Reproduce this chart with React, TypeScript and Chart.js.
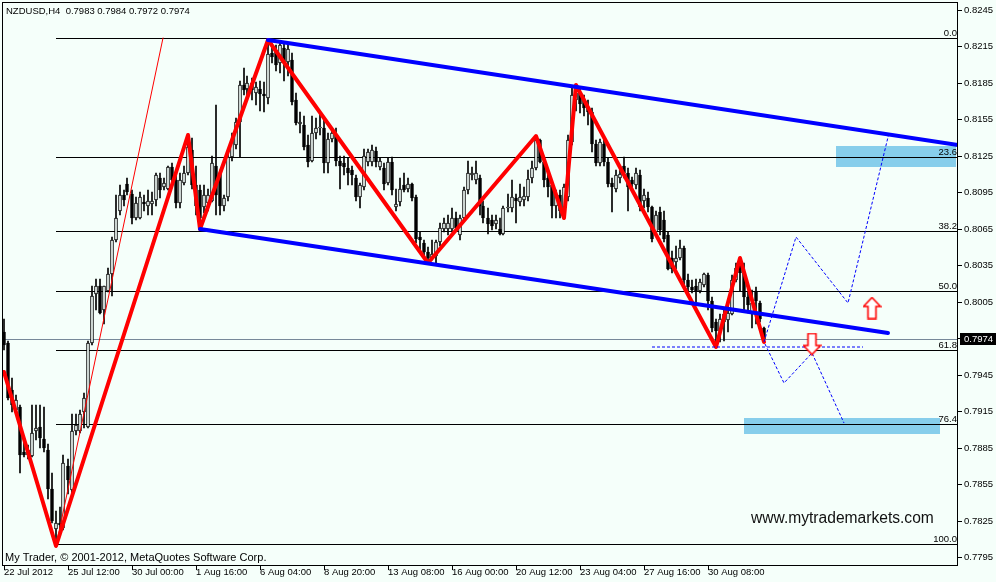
import React, { useEffect, useRef } from "react";
import { Chart, registerables } from "chart.js";

Chart.register(...registerables);

// ---------------- data ----------------
const SYMBOL = "NZDUSD,H4";
const COPYRIGHT = "My Trader, © 2001-2012, MetaQuotes Software Corp.";
const WATERMARK = "www.mytrademarkets.com";

// H4 candles, prices in pips (0.0001)
const OPEN = [
  7980, 7971, 7932, 7916, 7918, 7881, 7879, 7878, 7899, 7902,
  7892, 7883, 7851, 7818, 7823, 7819, 7870, 7850, 7899, 7899,
  7914, 7902, 7971, 8011, 8018, 7998, 8014, 8028, 8056, 8080,
  8093, 8102, 8094, 8074, 8074, 8087, 8084, 8085, 8089, 8107,
  8099, 8098, 8116, 8105, 8086, 8103, 8111, 8130, 8101, 8097,
  8083, 8086, 8088, 8117, 8111, 8084, 8091, 8124, 8134, 8153,
  8183, 8180, 8185, 8177, 8180, 8176, 8173, 8210, 8212, 8201,
  8214, 8202, 8204, 8171, 8151, 8150, 8134, 8121, 8144, 8148,
  8148, 8119, 8139, 8142, 8121, 8119, 8115, 8113, 8107, 8091,
  8099, 8120, 8120, 8129, 8116, 8115, 8103, 8120, 8083, 8087,
  8101, 8098, 8102, 8091, 8058, 8053, 8046, 8041, 8043, 8054,
  8065, 8065, 8065, 8074, 8060, 8074, 8097, 8109, 8105, 8107,
  8084, 8074, 8072, 8069, 8065, 8061, 8082, 8082, 8090, 8087,
  8089, 8091, 8107, 8115, 8138, 8120, 8107, 8101, 8084, 8093,
  8079, 8091, 8136, 8171, 8177, 8171, 8164, 8161, 8135, 8119,
  8135, 8120, 8103, 8098, 8107, 8117, 8111, 8105, 8101, 8109,
  8088, 8090, 8083, 8062, 8079, 8072, 8060, 8041, 8038, 8041,
  8049, 8023, 8017, 8018, 8014, 8019, 8027, 8006, 7988, 7981,
  7988, 7990, 7995, 8023, 8037, 8029, 8009, 7995, 8014, 8004,
  7983,
];
const HIGH = [
  7991, 7973, 7942, 7928, 7920, 7891, 7887, 7920, 7920, 7920,
  7918, 7888, 7864, 7833, 7836, 7879, 7876, 7913, 7913, 7916,
  7930, 7973, 8018, 8024, 8024, 8018, 8033, 8058, 8093, 8101,
  8097, 8107, 8097, 8091, 8095, 8093, 8097, 8095, 8111, 8111,
  8107, 8117, 8119, 8109, 8111, 8117, 8142, 8140, 8117, 8101,
  8101, 8098, 8125, 8167, 8113, 8093, 8130, 8144, 8156, 8187,
  8197, 8191, 8189, 8186, 8187, 8186, 8220, 8218, 8216, 8218,
  8218, 8218, 8210, 8177, 8161, 8158, 8142, 8158, 8156, 8162,
  8156, 8144, 8148, 8148, 8125, 8125, 8123, 8117, 8109, 8103,
  8131, 8131, 8134, 8132, 8123, 8119, 8123, 8124, 8098, 8107,
  8111, 8107, 8103, 8093, 8062, 8056, 8050, 8056, 8056, 8070,
  8074, 8076, 8082, 8079, 8076, 8099, 8121, 8116, 8121, 8109,
  8088, 8082, 8076, 8076, 8074, 8084, 8094, 8105, 8094, 8102,
  8099, 8113, 8121, 8141, 8139, 8125, 8111, 8103, 8097, 8097,
  8102, 8142, 8181, 8183, 8181, 8175, 8171, 8164, 8138, 8139,
  8138, 8123, 8107, 8113, 8115, 8124, 8115, 8108, 8115, 8113,
  8098, 8095, 8084, 8080, 8083, 8080, 8062, 8047, 8051, 8056,
  8051, 8028, 8023, 8024, 8024, 8029, 8029, 8009, 7991, 7995,
  7998, 8002, 8027, 8037, 8041, 8037, 8014, 8015, 8017, 8006,
  7984,
];
const LOW = [
  7965, 7924, 7914, 7914, 7864, 7877, 7876, 7877, 7891, 7885,
  7881, 7843, 7823, 7804, 7814, 7817, 7847, 7847, 7895, 7897,
  7901, 7901, 7969, 7998, 7995, 7987, 8013, 8010, 8054, 8076,
  8084, 8093, 8069, 8072, 8073, 8080, 8076, 8076, 8084, 8090,
  8097, 8097, 8101, 8082, 8082, 8101, 8109, 8098, 8076, 8065,
  8078, 8080, 8087, 8076, 8076, 8080, 8088, 8121, 8131, 8124,
  8175, 8175, 8171, 8167, 8162, 8161, 8168, 8201, 8195, 8193,
  8187, 8191, 8167, 8150, 8144, 8130, 8116, 8120, 8139, 8142,
  8111, 8111, 8136, 8117, 8098, 8109, 8101, 8101, 8088, 8082,
  8097, 8117, 8117, 8116, 8113, 8097, 8101, 8093, 8080, 8084,
  8095, 8095, 8088, 8053, 8045, 8043, 8037, 8039, 8037, 8051,
  8062, 8060, 8062, 8064, 8056, 8072, 8094, 8105, 8102, 8076,
  8070, 8061, 8064, 8065, 8060, 8060, 8079, 8079, 8070, 8084,
  8084, 8088, 8103, 8113, 8119, 8099, 8091, 8074, 8074, 8074,
  8074, 8088, 8134, 8162, 8160, 8158, 8150, 8128, 8117, 8117,
  8117, 8099, 8079, 8095, 8103, 8107, 8080, 8097, 8098, 8080,
  8082, 8079, 8054, 8059, 8060, 8054, 8031, 8029, 8032, 8039,
  8017, 8013, 8012, 8004, 8012, 8017, 7998, 7980, 7968, 7972,
  7973, 7980, 7994, 8021, 8014, 7998, 7996, 7983, 7987, 7988,
  7972,
];
const CLOSE = [
  7969, 7926, 7920, 7924, 7879, 7879, 7883, 7897, 7901, 7893,
  7885, 7851, 7825, 7823, 7821, 7872, 7858, 7899, 7904, 7913,
  7926, 7971, 8010, 8018, 7996, 8018, 8028, 8056, 8074, 8093,
  8089, 8095, 8074, 8086, 8091, 8085, 8088, 8088, 8109, 8097,
  8103, 8116, 8105, 8086, 8105, 8111, 8132, 8101, 8084, 8074,
  8093, 8093, 8119, 8093, 8084, 8090, 8124, 8138, 8153, 8183,
  8179, 8185, 8179, 8182, 8176, 8174, 8209, 8206, 8200, 8216,
  8201, 8213, 8169, 8152, 8153, 8132, 8120, 8144, 8148, 8149,
  8119, 8139, 8144, 8121, 8117, 8116, 8111, 8109, 8091, 8101,
  8125, 8128, 8130, 8120, 8121, 8102, 8120, 8097, 8085, 8098,
  8097, 8102, 8090, 8057, 8056, 8046, 8041, 8044, 8054, 8066,
  8070, 8070, 8074, 8066, 8074, 8097, 8111, 8111, 8111, 8084,
  8074, 8069, 8067, 8072, 8061, 8082, 8083, 8091, 8088, 8091,
  8092, 8106, 8115, 8138, 8120, 8105, 8099, 8084, 8093, 8080,
  8099, 8138, 8175, 8177, 8168, 8164, 8161, 8135, 8119, 8136,
  8120, 8102, 8099, 8109, 8110, 8111, 8099, 8102, 8111, 8083,
  8093, 8083, 8057, 8076, 8064, 8057, 8032, 8032, 8041, 8049,
  8023, 8017, 8015, 8014, 8021, 8028, 8006, 7983, 7981, 7991,
  7995, 7996, 8023, 8033, 8029, 8009, 8002, 8004, 8006, 7991,
  7974,
];

const DATE_BARS = [0, 16, 32, 48, 64, 80, 96, 112, 128, 144, 160, 176];
const DATE_LABELS = [
  "22 Jul 2012", "25 Jul 12:00", "30 Jul 00:00", "1 Aug 16:00", "6 Aug 04:00", "8 Aug 20:00",
  "13 Aug 08:00", "16 Aug 00:00", "20 Aug 12:00", "23 Aug 04:00", "27 Aug 16:00", "30 Aug 08:00",
];
const PRICE_TICKS = [
  0.7795, 0.7825, 0.7855, 0.7885, 0.7915, 0.7945, 0.7975, 0.8005,
  0.8035, 0.8065, 0.8095, 0.8125, 0.8155, 0.8185, 0.8215, 0.8245,
];

// ZigZag (bar index, price)
const ZIGZAG_BARS = [0, 13, 46, 49, 66, 106, 133, 140, 143, 178, 184, 190];
const ZIGZAG_PRICES = [0.7947, 0.7804, 0.8142, 0.8065, 0.822, 0.8037, 0.8141, 0.8074, 0.8183, 0.7968, 0.8041, 0.7972];

// thin trend line
const TREND_BARS = [13, 39.9];
const TREND_PRICES = [0.7804, 0.8222];

// descending channel
const CHANNEL_UP_BARS = [66, 238.6];
const CHANNEL_UP_PRICES = [0.822, 0.8134];
const CHANNEL_LOW_BARS = [49, 221];
const CHANNEL_LOW_PRICES = [0.8065, 0.7979];

// projected scenarios (dashed)
const PROJ_A_BARS = [190, 198, 211, 221.4];
const PROJ_A_PRICES = [0.7972, 0.8058, 0.8004, 0.8144];
const PROJ_B_BARS = [190.3, 195, 202, 210];
const PROJ_B_PRICES = [0.797, 0.7938, 0.7963, 0.7905];
const SUPPORT_BARS = [162, 214.8];
const SUPPORT_PRICE = 0.7968;

// target zones
const ZONE_FROM = [208, 185];
const ZONE_TO = [238, 234];
const ZONE_TOP = [0.8133, 0.7909];
const ZONE_BOTTOM = [0.8116, 0.7896];

// arrows
const ARROW_UP_BAR = 217;
const ARROW_UP_PRICE = 0.8;
const ARROW_DOWN_BAR = 202;
const ARROW_DOWN_PRICE = 0.797;

// Fibonacci
const FIB_HIGH = 0.82215;
const FIB_LOW = 0.7805;
const FIB_START_BAR = 13;
const FIB_LEVELS = [0, 23.6, 38.2, 50, 61.8, 76.4, 100];

// view
const X_MIN = -0.375;
const X_MAX = 238.625;
const Y_MIN = 0.778842;
const Y_MAX = 0.825158;

// ---------------- styles ----------------
const BG = "#F5FFFA";
const FONT = "'Liberation Sans', Arial, Helvetica, sans-serif";

const p = (v: number) => v / 10000;

function makeArrow(up: boolean): HTMLCanvasElement {
  const c = document.createElement("canvas");
  c.width = 19;
  c.height = 23;
  const g = c.getContext("2d")!;
  const pts = [
    [9.5, 1], [18, 10], [13.5, 10], [13.5, 22], [5.5, 22], [5.5, 10], [1, 10],
  ];
  g.beginPath();
  pts.forEach(([px, py], k) => {
    const yy = up ? py : 23 - py;
    if (k === 0) g.moveTo(px, yy);
    else g.lineTo(px, yy);
  });
  g.closePath();
  g.fillStyle = "#ffffff";
  g.fill();
  g.strokeStyle = "#ff0000";
  g.lineWidth = 1.6;
  g.stroke();
  return c;
}

const mtPlugin = {
  id: "mtDecor",
  beforeDraw(chart: any) {
    const { ctx, width, height } = chart;
    ctx.save();
    ctx.fillStyle = BG;
    ctx.fillRect(0, 0, width, height);
    ctx.restore();
  },
  beforeDatasetsDraw(chart: any) {
    const { ctx, chartArea } = chart;
    const xs = chart.scales.x;
    const ys = chart.scales.y;
    ctx.save();
    ctx.beginPath();
    ctx.rect(chartArea.left, chartArea.top, chartArea.right - chartArea.left, chartArea.bottom - chartArea.top);
    ctx.clip();
    // zones
    ctx.fillStyle = "#87CEEB";
    ZONE_FROM.forEach((from, k) => {
      const x1 = Math.round(xs.getPixelForValue(from));
      const x2 = Math.round(xs.getPixelForValue(ZONE_TO[k]));
      const y1 = Math.round(ys.getPixelForValue(ZONE_TOP[k]));
      const y2 = Math.round(ys.getPixelForValue(ZONE_BOTTOM[k]));
      ctx.fillRect(x1, y1, x2 - x1, y2 - y1);
    });
    // current price line
    const last = CLOSE[CLOSE.length - 1];
    const yp = Math.round(ys.getPixelForValue(p(last))) + 0.5;
    ctx.strokeStyle = "#778899";
    ctx.lineWidth = 1;
    ctx.beginPath();
    ctx.moveTo(chartArea.left, yp);
    ctx.lineTo(chartArea.right, yp);
    ctx.stroke();
    // fib levels
    const xStart = xs.getPixelForValue(FIB_START_BAR);
    ctx.strokeStyle = "#000000";
    FIB_LEVELS.forEach((lv) => {
      const v = FIB_HIGH - (FIB_HIGH - FIB_LOW) * (lv / 100);
      const yy = Math.round(ys.getPixelForValue(v)) - 0.5;
      ctx.beginPath();
      ctx.moveTo(Math.round(xStart), yy);
      ctx.lineTo(chartArea.right, yy);
      ctx.stroke();
    });
    ctx.restore();
  },
  afterDatasetsDraw(chart: any) {
    const { ctx, chartArea } = chart;
    const ys = chart.scales.y;
    ctx.save();
    ctx.fillStyle = "#000000";
    ctx.font = `9.5px ${FONT}`;
    ctx.textAlign = "right";
    ctx.textBaseline = "alphabetic";
    FIB_LEVELS.forEach((lv) => {
      const v = FIB_HIGH - (FIB_HIGH - FIB_LOW) * (lv / 100);
      const yy = Math.round(ys.getPixelForValue(v)) - 0.5;
      ctx.fillText(lv.toFixed(1), chartArea.right - 1, yy - 2.5);
    });
    ctx.restore();
  },
  afterDraw(chart: any) {
    const { ctx, chartArea } = chart;
    const ys = chart.scales.y;
    ctx.save();
    // frame
    ctx.strokeStyle = "#000000";
    ctx.lineWidth = 1;
    ctx.strokeRect(
      chartArea.left + 0.5,
      chartArea.top + 0.5,
      chartArea.right - chartArea.left - 1,
      Math.round(chartArea.bottom) - chartArea.top
    );
    // title
    const n = CLOSE.length - 1;
    ctx.fillStyle = "#000000";
    ctx.font = `9.5px ${FONT}`;
    ctx.textAlign = "left";
    ctx.textBaseline = "alphabetic";
    const title = `${SYMBOL}  ${p(OPEN[n]).toFixed(4)} ${p(HIGH[n]).toFixed(4)} ${p(LOW[n]).toFixed(4)} ${p(CLOSE[n]).toFixed(4)}`;
    ctx.fillText(title, 6, 14);
    ctx.font = `11px ${FONT}`;
    ctx.fillText(COPYRIGHT, 5, 561);
    // watermark
    ctx.font = `15.6px ${FONT}`;
    ctx.fillStyle = "#111111";
    ctx.fillText(WATERMARK, 751, 523);
    // price box
    const yy = Math.round(ys.getPixelForValue(p(CLOSE[n])));
    ctx.fillStyle = "#000000";
    ctx.fillRect(chartArea.right + 2, yy - 6, 38, 12);
    ctx.fillStyle = "#ffffff";
    ctx.font = `9.5px ${FONT}`;
    ctx.textBaseline = "middle";
    ctx.fillText(p(CLOSE[n]).toFixed(4), chartArea.right + 6, yy + 0.5);
    ctx.restore();
  },
};

export default function App() {
  const ref = useRef<HTMLCanvasElement | null>(null);

  useEffect(() => {
    document.body.style.margin = "0";
    const canvas = ref.current;
    if (!canvas) return;

    const idx = OPEN.map((_, i) => i);
    const bodies = idx.map((i) => ({ x: i, y: [p(OPEN[i]), p(CLOSE[i])] }));
    const wicks = idx.map((i) => ({ x: i, y: [p(LOW[i]), p(HIGH[i])] }));
    const bodyColors = idx.map((i) => (CLOSE[i] >= OPEN[i] ? BG : "#000000"));

    const pts = (bars: number[], prices: number[]) => bars.map((b, k) => ({ x: b, y: prices[k] }));

    const lineBase = { type: "line", pointRadius: 0, tension: 0, fill: false, borderCapStyle: "round", borderJoinStyle: "round" };

    const chart = new Chart(canvas, {
      type: "bar",
      data: {
        datasets: [
          {
            ...lineBase,
            label: "up arrow",
            data: [{ x: ARROW_UP_BAR, y: ARROW_UP_PRICE }],
            showLine: false,
            pointRadius: 5,
            pointStyle: makeArrow(true),
            order: 0,
          },
          {
            ...lineBase,
            label: "down arrow",
            data: [{ x: ARROW_DOWN_BAR, y: ARROW_DOWN_PRICE }],
            showLine: false,
            pointRadius: 5,
            pointStyle: makeArrow(false),
            order: 0,
          },
          { ...lineBase, label: "proj A", data: pts(PROJ_A_BARS, PROJ_A_PRICES), borderColor: "#0000FF", borderWidth: 1, borderDash: [3, 2], borderCapStyle: "butt", order: 1 },
          { ...lineBase, label: "proj B", data: pts(PROJ_B_BARS, PROJ_B_PRICES), borderColor: "#0000FF", borderWidth: 1, borderDash: [3, 2], borderCapStyle: "butt", order: 1 },
          { ...lineBase, label: "support", data: SUPPORT_BARS.map((b) => ({ x: b, y: SUPPORT_PRICE })), borderColor: "#0000FF", borderWidth: 1, borderDash: [3, 2], borderCapStyle: "butt", order: 1 },
          { ...lineBase, label: "channel up", data: pts(CHANNEL_UP_BARS, CHANNEL_UP_PRICES), borderColor: "#0000FF", borderWidth: 4, order: 2 },
          { ...lineBase, label: "channel low", data: pts(CHANNEL_LOW_BARS, CHANNEL_LOW_PRICES), borderColor: "#0000FF", borderWidth: 4, order: 2 },
          { ...lineBase, label: "zigzag", data: pts(ZIGZAG_BARS, ZIGZAG_PRICES), borderColor: "#FF0000", borderWidth: 4, order: 3 },
          { ...lineBase, label: "trend", data: pts(TREND_BARS, TREND_PRICES), borderColor: "#FF0000", borderWidth: 1, order: 4 },
          {
            type: "bar",
            label: "bodies",
            data: bodies,
            backgroundColor: bodyColors,
            borderColor: "#000000",
            borderWidth: 1,
            borderSkipped: false,
            barThickness: 3,
            minBarLength: 1,
            grouped: false,
            order: 5,
          },
          {
            type: "bar",
            label: "wicks",
            data: wicks,
            backgroundColor: "#000000",
            borderWidth: 0,
            barThickness: 1,
            minBarLength: 1,
            grouped: false,
            order: 6,
          },
        ] as any,
      },
      options: {
        responsive: false,
        animation: false,
        devicePixelRatio: 1,
        events: [],
        layout: { autoPadding: false, padding: { left: 2, top: 2, right: 0, bottom: 0 } },
        plugins: {
          legend: { display: false },
          tooltip: { enabled: false },
          title: { display: false },
        },
        scales: {
          x: {
            type: "linear",
            position: "bottom",
            min: X_MIN,
            max: X_MAX,
            offset: false,
            alignToPixels: true,
            afterBuildTicks: (s: any) => {
              s.ticks = DATE_BARS.map((v) => ({ value: v }));
            },
            afterFit: (s: any) => {
              s.height = 17;
              s.paddingLeft = 0;
              s.paddingRight = 0;
              s.paddingTop = 0;
              s.paddingBottom = 0;
            },
            ticks: {
              autoSkip: false,
              maxRotation: 0,
              minRotation: 0,
              align: "start",
              padding: 0,
              color: "#000000",
              font: { family: FONT, size: 9.5, lineHeight: 0.6 },
              callback: (v: any) => {
                const k = DATE_BARS.indexOf(Number(v));
                return k >= 0 ? DATE_LABELS[k] : "";
              },
            },
            grid: { drawOnChartArea: false, drawTicks: true, tickLength: 5, color: "#000000", tickColor: "#000000", offset: false },
            border: { display: false },
          },
          y: {
            type: "linear",
            position: "right",
            min: Y_MIN,
            max: Y_MAX,
            alignToPixels: true,
            afterBuildTicks: (s: any) => {
              s.ticks = PRICE_TICKS.map((v) => ({ value: v }));
            },
            afterFit: (s: any) => {
              s.width = 38;
              s.paddingLeft = 0;
              s.paddingRight = 0;
              s.paddingTop = 0;
              s.paddingBottom = 0;
            },
            ticks: {
              padding: 2,
              color: "#000000",
              font: { family: FONT, size: 9.5 },
              callback: (v: any) => Number(v).toFixed(4),
            },
            grid: { drawOnChartArea: false, drawTicks: true, tickLength: 4, color: "#000000", tickColor: "#000000" },
            border: { display: false },
          },
        },
      } as any,
      plugins: [mtPlugin],
    } as any);

    return () => chart.destroy();
  }, []);

  return (
    <div style={{ position: "absolute", left: 0, top: 0, width: 996, height: 582, background: BG }}>
      <canvas ref={ref} width={996} height={582} style={{ display: "block", width: 996, height: 582 }} />
    </div>
  );
}
